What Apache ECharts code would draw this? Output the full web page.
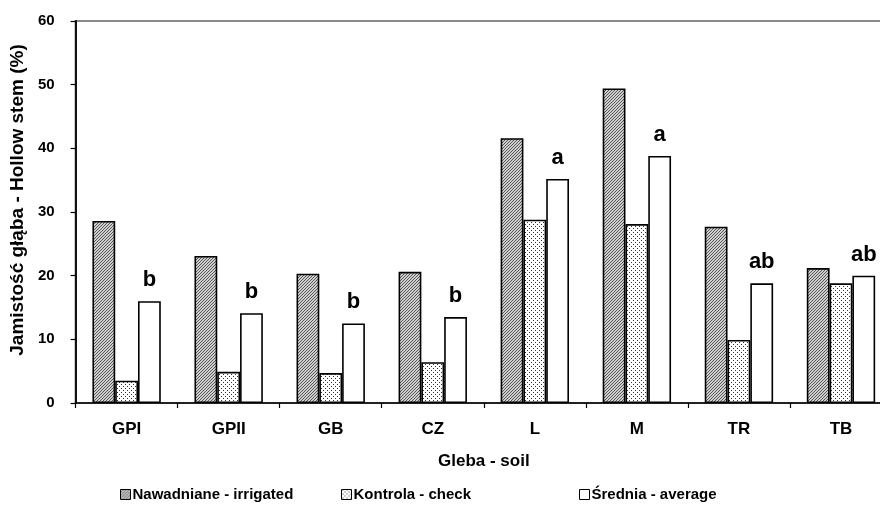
<!DOCTYPE html>
<html>
<head>
<meta charset="utf-8">
<script src="https://cdn.jsdelivr.net/npm/echarts@6/dist/echarts.min.js"></script>
<style>
html,body{margin:0;padding:0;background:#fff;overflow:hidden;}
#chart{width:900px;height:506px;}
</style>
</head>
<body>
<div id="chart"></div>
<script>
var categories = ['GPI', 'GPII', 'GB', 'CZ', 'L', 'M', 'TR', 'TB'];
var irrigated = [28.6, 23.1, 20.3, 20.6, 41.6, 49.4, 27.7, 21.2];
var check = [3.5, 4.9, 4.7, 6.4, 28.8, 28.1, 9.9, 18.8];
var average = [16.0, 14.1, 12.5, 13.5, 35.2, 38.8, 18.8, 20.0];
var letters = ['b', 'b', 'b', 'b', 'a', 'a', 'ab', 'ab'];
var seriesNames = ['Nawadniane - irrigated', 'Kontrola - check', 'Średnia - average'];
var yTicks = [0, 10, 20, 30, 40, 50, 60];

function hatchPattern() {
  var c = document.createElement('canvas');
  c.width = 3; c.height = 3;
  var ctx = c.getContext('2d');
  ctx.fillStyle = '#d0d0d0';
  ctx.fillRect(0, 0, 3, 3);
  ctx.fillStyle = '#555555';
  ctx.fillRect(0, 2, 1, 1);
  ctx.fillRect(1, 1, 1, 1);
  ctx.fillRect(2, 0, 1, 1);
  return c;
}
function dotPattern() {
  var c = document.createElement('canvas');
  c.width = 4; c.height = 4;
  var ctx = c.getContext('2d');
  ctx.fillStyle = '#ffffff';
  ctx.fillRect(0, 0, 4, 4);
  ctx.fillStyle = '#333333';
  ctx.fillRect(1, 0, 1, 1);
  ctx.fillRect(3, 2, 1, 1);
  return c;
}

var FONT = 'Liberation Sans, Arial, Helvetica, sans-serif';
var chart = echarts.init(document.getElementById('chart'), null, {renderer: 'canvas'});

var barBorder = {borderColor: '#000', borderWidth: 1.6};

function legendFor(name, left) {
  return {
    data: [name],
    left: left,
    top: 482,
    itemWidth: 10,
    itemHeight: 10,
    itemGap: 4,
    icon: 'rect',
    textStyle: {fontFamily: FONT, fontWeight: 'bold', fontSize: 15, color: '#000', padding: [0, 0, 0, -3]},
    itemStyle: {borderColor: '#000', borderWidth: 1}
  };
}

var option = {
  animation: false,
  backgroundColor: '#fff',
  textStyle: {fontFamily: FONT},
  grid: {left: 71, top: 21, right: 8, bottom: 103, show: true, borderColor: '#8a8a8a', borderWidth: 2, containLabel: false},
  legend: [
    legendFor(seriesNames[0], 115),
    legendFor(seriesNames[1], 336),
    legendFor(seriesNames[2], 574)
  ],
  xAxis: {
    type: 'category',
    data: categories,
    name: 'Gleba - soil',
    nameLocation: 'middle',
    nameGap: 50,
    nameTextStyle: {fontFamily: FONT, fontWeight: 'bold', fontSize: 17, color: '#000'},
    axisLine: {lineStyle: {color: '#000', width: 1.5}},
    axisTick: {show: true, length: 5, lineStyle: {color: '#000', width: 1.2}},
    axisLabel: {fontFamily: FONT, fontWeight: 'bold', fontSize: 17, color: '#000', margin: 18}
  },
  yAxis: {
    type: 'value',
    min: 0,
    max: 60,
    interval: 10,
    name: 'Jamistość głąba - Hollow stem (%)',
    nameLocation: 'middle',
    nameGap: 35,
    nameTextStyle: {fontFamily: FONT, fontWeight: 'bold', fontSize: 19, color: '#000', padding: [0, 0, 0, 24]},
    axisLine: {show: true, lineStyle: {color: '#000', width: 1.8}},
    axisTick: {show: true, length: 5, lineStyle: {color: '#000', width: 1.2}},
    splitLine: {show: false},
    axisLabel: {
      fontFamily: FONT, fontWeight: 'bold', fontSize: 15, color: '#000', margin: 21,
      formatter: function (v) { return yTicks.indexOf(v) >= 0 ? String(v) : ''; }
    }
  },
  series: [
    {
      name: seriesNames[0], type: 'bar', data: irrigated,
      barGap: '0%', barCategoryGap: '33%',
      itemStyle: Object.assign({color: {image: hatchPattern(), repeat: 'repeat'}}, barBorder)
    },
    {
      name: seriesNames[1], type: 'bar', data: check,
      barGap: '0%', barCategoryGap: '33%',
      itemStyle: Object.assign({color: {image: dotPattern(), repeat: 'repeat'}}, barBorder)
    },
    {
      name: seriesNames[2], type: 'bar', data: average,
      barGap: '0%', barCategoryGap: '33%',
      itemStyle: Object.assign({color: '#ffffff'}, barBorder),
      label: {
        show: true, position: 'top', distance: 10,
        fontFamily: FONT, fontWeight: 'bold', fontSize: 22, color: '#000',
        formatter: function (p) { return letters[p.dataIndex]; }
      }
    }
  ]
};
chart.setOption(option);
</script>
</body>
</html>
